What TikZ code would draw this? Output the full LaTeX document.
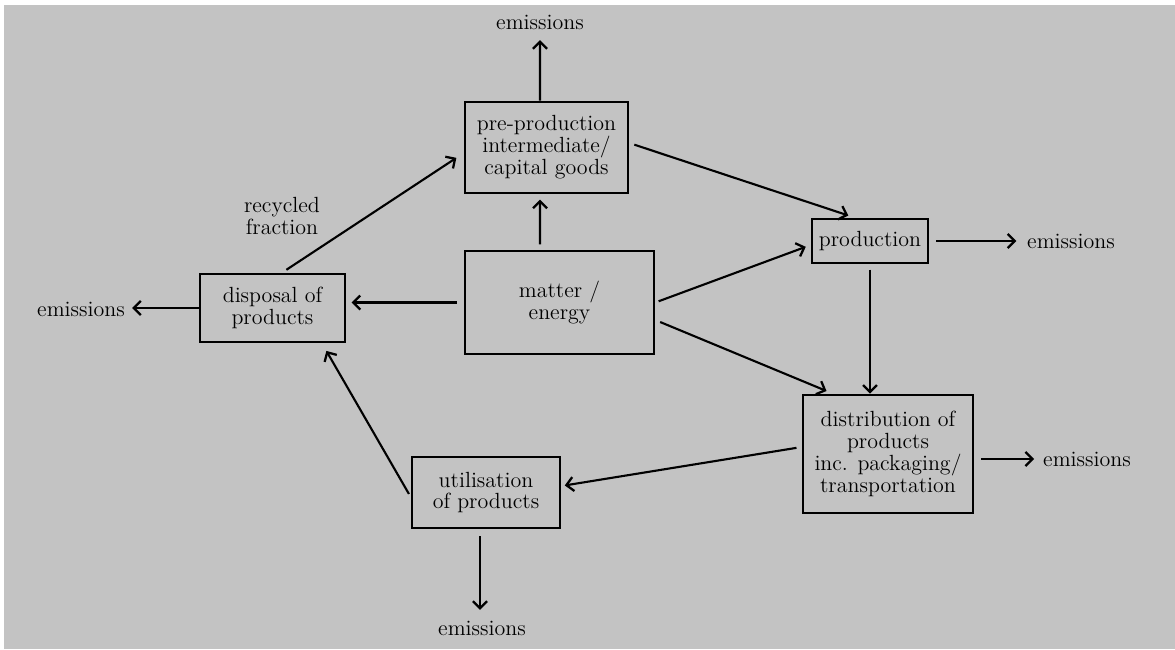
\documentclass[tikz,border=0pt]{standalone}
\usetikzlibrary{arrows.meta}

\definecolor{scan_bg}{HTML}{C3C3C3}
\colorlet{scan_ink}{black}

\begin{document}
\begin{tikzpicture}[x=0.02cm, y=-0.02cm,
    box/.style={rectangle, draw=scan_ink, line width=1.5pt, align=center,
      text=scan_ink, inner sep=2pt, font=\fontsize{12.5}{12.5}\selectfont},
    label/.style={rectangle, align=center, text=scan_ink, inner sep=2pt,
      font=\fontsize{12.5}{12.5}\selectfont},
    flow/.style={draw=scan_ink, line width=1.2pt,
      -{Straight Barb[length=4pt, width=8pt, line width=1.3pt]}}]
    \useasboundingbox (0,0) rectangle (1175,649);
    \fill[scan_bg] (4,5) rectangle (1175,649);

    \node[box, minimum width=3.26cm, minimum height=1.82cm]
      (pre) at (546.5,147.5) {pre-production\\intermediate/\\capital goods};
    \node[box, minimum width=3.78cm, minimum height=2.06cm]
      (matter) at (559.5,302.5) {matter /\\energy};
    \node[box, minimum width=2.90cm, minimum height=1.36cm]
      (disp) at (272.5,308) {disposal of\\products};
    \node[box, minimum width=2.96cm, minimum height=1.42cm]
      (util) at (486,492.5) {utilisation\\of products};
    \node[box, minimum width=2.32cm, minimum height=0.88cm]
      (prod) at (870,241) {production};
    \node[box, minimum width=3.40cm, minimum height=2.36cm]
      (dist) at (888,454)
      {distribution of\\products\\inc. packaging/\\transportation};

    \node[label] (em_pre) at (540,22) {emissions};
    \node[label] (em_disp) at (81,309) {emissions};
    \node[label] (em_prod) at (1071,241) {emissions};
    \node[label] (em_dist) at (1087,459) {emissions};
    \node[label] (em_util) at (482,628) {emissions};
    \node[label] (recyc) at (282,216) {recycled\\fraction};

    \draw[flow, shorten >=4pt] ([xshift=-0.13cm]pre.north) -- (em_pre.south);
    \draw[flow, shorten <=3pt, shorten >=3pt]
      ([xshift=-0.39cm]matter.north) -- ([xshift=-0.13cm]pre.south);
    \draw[flow, shorten <=3pt, shorten >=4pt]
      ([yshift=0.09cm]pre.east) -- ([xshift=-0.30cm]prod.north);
    \draw[flow, shorten <=2pt, shorten >=3pt]
      (matter.east) -- ([yshift=-0.08cm]prod.west);
    \draw[flow, shorten <=3pt, shorten >=4pt]
      ([yshift=-0.35cm]matter.east) -- ([xshift=-1.10cm]dist.north);
    \draw[flow, shorten <=3pt] (prod.south) -- (prod.south |- dist.north);
    \draw[flow, shorten <=4pt, shorten >=4pt] (prod.east) -- (em_prod.west);
    \draw[flow, shorten <=4pt, shorten >=3pt]
      ([yshift=-0.10cm]dist.east) -- ([yshift=-0.10cm]dist.east -| em_dist.west);
    \draw[flow, shorten <=3pt, shorten >=2pt]
      ([yshift=0.14cm]dist.west) -- ([yshift=0.13cm]util.east);
    \draw[flow, shorten <=4pt, shorten >=4pt]
      ([xshift=-0.12cm]util.south) -- ([xshift=-0.12cm]util.south |- em_util.north);
    \draw[flow, shorten <=2pt, shorten >=5pt]
      ([yshift=-0.09cm]util.west) -- ([xshift=0.99cm]disp.south);
    \draw[flow, shorten <=4pt, shorten >=3pt]
      (matter.west) -- (matter.west -| disp.east);
    \draw[flow, shorten >=2pt] (disp.west) -- (disp.west -| em_disp.east);
    \draw[flow, shorten <=3pt, shorten >=5pt]
      ([xshift=0.19cm]disp.north) -- ([yshift=-0.11cm]pre.west);
  \end{tikzpicture}
\end{document}
